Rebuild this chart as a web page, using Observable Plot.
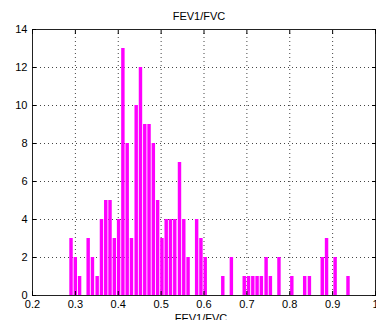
<!DOCTYPE html>
<html>
<head>
<meta charset="utf-8">
<script src="https://cdn.jsdelivr.net/npm/d3@7"></script>
<script src="https://cdn.jsdelivr.net/npm/@observablehq/plot@0.6"></script>
<style>
  html, body { margin: 0; padding: 0; background: #fff; overflow: hidden; }
  #chart svg { display: block; }
</style>
</head>
<body>
<div id="chart"></div>
<script>
const binCenters = [0.291, 0.301, 0.311, 0.321, 0.331, 0.341, 0.352, 0.362, 0.372, 0.382,
  0.392, 0.402, 0.412, 0.422, 0.432, 0.443, 0.453, 0.463, 0.473, 0.483,
  0.493, 0.503, 0.513, 0.523, 0.533, 0.544, 0.554, 0.564, 0.574, 0.584,
  0.594, 0.604, 0.614, 0.624, 0.634, 0.645, 0.655, 0.665, 0.675, 0.685,
  0.695, 0.705, 0.715, 0.725, 0.735, 0.746, 0.756, 0.766, 0.776, 0.786,
  0.796, 0.806, 0.816, 0.826, 0.836, 0.847, 0.857, 0.867, 0.877, 0.887,
  0.897, 0.907, 0.917, 0.927, 0.937];
const counts = [3, 2, 1, 0, 3, 2, 1, 4, 5, 5,
  3, 4, 13, 8, 3, 10, 12, 9, 9, 8,
  5, 3, 4, 4, 4, 7, 4, 2, 0, 4,
  3, 2, 0, 0, 0, 1, 0, 2, 0, 0,
  1, 1, 1, 1, 1, 2, 1, 0, 2, 0,
  0, 1, 0, 0, 1, 1, 0, 0, 2, 3,
  0, 2, 0, 0, 1];
const xTicks = [0.2, 0.3, 0.4, 0.5, 0.6, 0.7, 0.8, 0.9, 1];
const yTicks = [0, 2, 4, 6, 8, 10, 12, 14];
const gridX = [0.3, 0.4, 0.5, 0.6, 0.7, 0.8, 0.9];
const gridY = [2, 4, 6, 8, 10, 12];
const titleText = "FEV1/FVC";
const xLabel = "FEV1/FVC";

const halfWidth = 0.004;
const bars = binCenters.map((c, i) => ({x1: c - halfWidth, x2: c + halfWidth, y: counts[i]}))
  .filter(d => d.y > 0);

const fmt = d => String(+d.toFixed(1));

const chart = Plot.plot({
  width: 376,
  height: 320,
  marginLeft: 32,
  marginRight: 1,
  marginTop: 29,
  marginBottom: 25,
  style: {fontFamily: "Arial, 'Liberation Sans', sans-serif", fontSize: "11px", color: "#000", background: "#fff"},
  x: {domain: [0.2, 1], label: null},
  y: {domain: [0, 14], label: null},
  marks: [
    Plot.ruleX(gridX, {stroke: "#444", strokeDasharray: "1,3", strokeWidth: 1}),
    Plot.ruleY(gridY, {stroke: "#444", strokeDasharray: "1,3", strokeWidth: 1}),
    Plot.rectY(bars, {x1: "x1", x2: "x2", y: "y", fill: "#ff00ff", insetLeft: 0, insetRight: 0}),
    Plot.frame({stroke: "#222", strokeWidth: 1}),
    Plot.axisX({ticks: xTicks, tickFormat: fmt, tickSize: -4, tickPadding: 9, label: null, fontSize: 11}),
    Plot.axisX({ticks: xTicks, anchor: "top", tickSize: -4, tickFormat: () => "", label: null}),
    Plot.axisY({ticks: yTicks, tickSize: -4, tickPadding: 9, label: null, fontSize: 11}),
    Plot.axisY({ticks: yTicks, anchor: "right", tickSize: -4, tickFormat: () => "", label: null}),
    Plot.text([titleText], {frameAnchor: "top", dx: -5, dy: -10, lineAnchor: "bottom", fontSize: 11}),
    Plot.text([xLabel], {frameAnchor: "bottom", dx: -3, dy: 19, lineAnchor: "top", fontSize: 11})
  ]
});
document.getElementById("chart").appendChild(chart);
</script>
</body>
</html>
